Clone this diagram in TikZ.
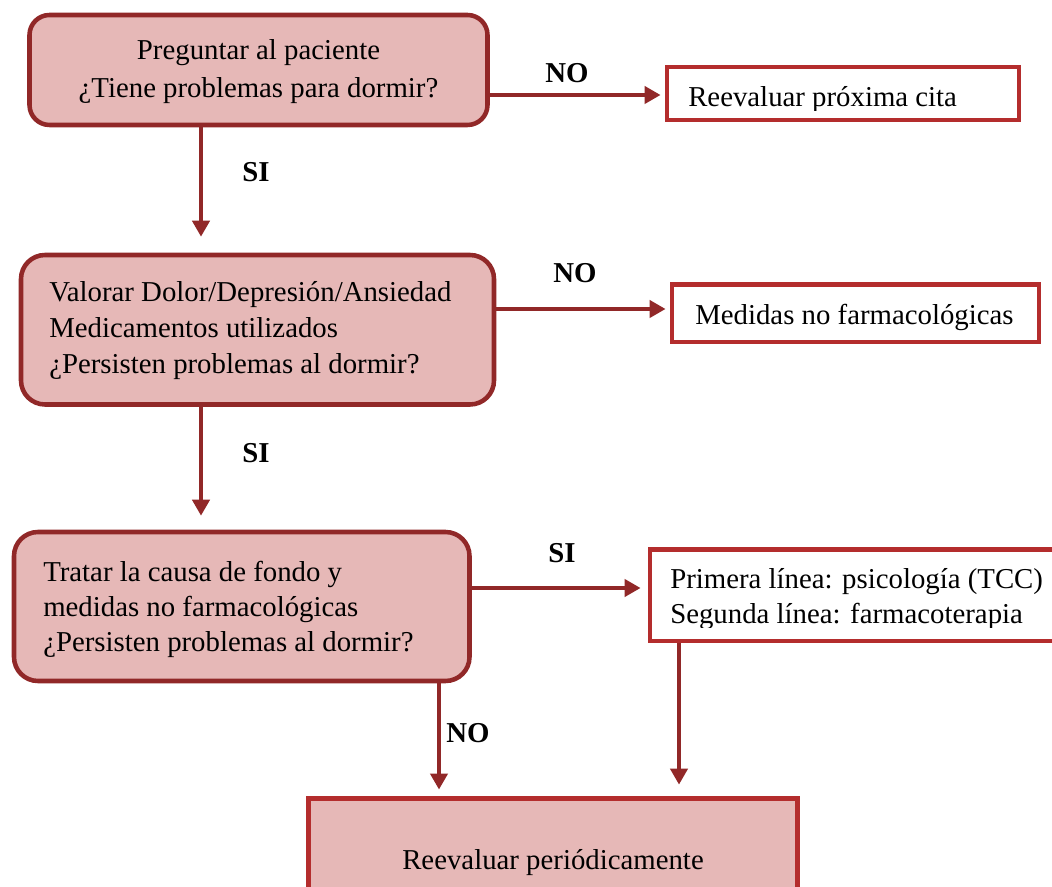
\documentclass[tikz,border=0pt]{standalone}
\usepackage{fontspec}
\setmainfont{Liberation Serif}
\usetikzlibrary{arrows.meta,fit}
\definecolor{boxfill}{HTML}{E6B8B7}
\definecolor{darkred}{HTML}{912828}
\definecolor{brightred}{HTML}{B42D2D}
\tikzset{
  roundbox/.style={draw=darkred, fill=boxfill, line width=3.4pt, rounded corners=18pt, inner sep=0pt},
  plainbox/.style={draw=brightred, fill=white, line width=3.6pt, inner sep=0pt},
  endbox/.style={draw=brightred, fill=boxfill, line width=3.6pt, inner sep=0pt},
  txt/.style={font=\fontsize{21.6pt}{26pt}\selectfont, inner sep=0pt},
  lbl/.style={font=\fontsize{21.6pt}{26pt}\selectfont\bfseries, inner sep=0pt},
  arr/.style={draw=darkred, line width=3pt, -{Triangle[length=12pt,width=12.75pt]}}
}
\begin{document}
\begin{tikzpicture}[x=0.75pt,y=-0.75pt]
\useasboundingbox (0,0) rectangle (1052,887);
\clip (0,0) rectangle (1052,887);
\fill[white] (0,0) rectangle (1052,887);
% boxes
\node[roundbox, rounded corners=15pt, fit={(29.5,15) (487.5,125)}] (q1) {};
\node[roundbox, fit={(21,255) (494,404.5)}] (q2) {};
\node[roundbox, fit={(14,532) (469.5,681)}] (q3) {};
\node[plainbox, fit={(667,67) (1019,120)}] (r1) {};
\node[plainbox, fit={(672,284.5) (1039,342)}] (r2) {};
\node[plainbox, fit={(650,549.5) (1090,641)}] (r3) {};
\node[endbox, fit={(308.5,798.5) (797.5,930)}] (q5) {};
% texts
\node[txt, anchor=base] (q1a) at (258.5,60) {Preguntar al paciente};
\node[txt, anchor=base] (q1b) at (258.5,98) {¿Tiene problemas para dormir?};
\node[txt, anchor=base west] (q2a) at (49,302) {Valorar Dolor/Depresión/Ansiedad};
\node[txt, anchor=base west] (q2b) at (49,338) {Medicamentos utilizados};
\node[txt, anchor=base west] (q2c) at (49,374) {¿Persisten problemas al dormir?};
\node[txt, anchor=base west] (q3a) at (43,581) {Tratar la causa de fondo y};
\node[txt, anchor=base west] (q3b) at (43,616) {medidas no farmacológicas};
\node[txt, anchor=base west] (q3c) at (43,651) {¿Persisten problemas al dormir?};
\begin{scope}
\clip (667,67) rectangle (1019,111);
\node[txt, anchor=base west] (r1a) at (688,107) {Reevaluar próxima cita};
\end{scope}
\node[txt, anchor=base west] (r2a) at (695,325) {Medidas no farmacológicas};
\begin{scope}
\clip (650,549.5) rectangle (1090,627);
\node[txt, anchor=base west] (r3a) at (670,588) {Primera línea: psicología (TCC)};
\node[txt, anchor=base west] (r3b) at (670,623) {Segunda línea: farmacoterapia};
\end{scope}
\node[txt, anchor=base] (q5a) at (553,869) {Reevaluar periódicamente};
% helper coordinates
\coordinate (a1y) at (0,95);
\coordinate (a2y) at (0,309);
\coordinate (a3y) at (0,588);
\coordinate (xb1) at (201,0);
\coordinate (xb3) at (439,0);
\coordinate (xb4) at (679,0);
% connectors
\draw[arr, shorten >=3pt] (q1.east |- a1y) -- (r1.west |- a1y);
\draw[arr, shorten >=3pt] (q2.east |- a2y) -- (r2.west |- a2y);
\draw[arr, shorten >=5.25pt] (q3.east |- a3y) -- (r3.west |- a3y);
\draw[arr, shorten >=12pt] (q1.south -| xb1) -- (q2.north -| xb1);
\draw[arr, shorten >=10.5pt] (q2.south -| xb1) -- (q3.north -| xb1);
\draw[arr, shorten >=4.9pt] (q3.south -| xb3) -- (q5.north -| xb3);
\draw[arr, shorten >=8.6pt] (r3.south -| xb4) -- (q5.north -| xb4);
% labels
\node[lbl] (l1) at (567,73) {NO};
\node[lbl] (l2) at (575,273) {NO};
\node[lbl] (l3) at (562,553) {SI};
\node[lbl] (l4) at (256,172) {SI};
\node[lbl] (l5) at (256,453) {SI};
\node[lbl] (l6) at (468,733) {NO};
\end{tikzpicture}
\end{document}
